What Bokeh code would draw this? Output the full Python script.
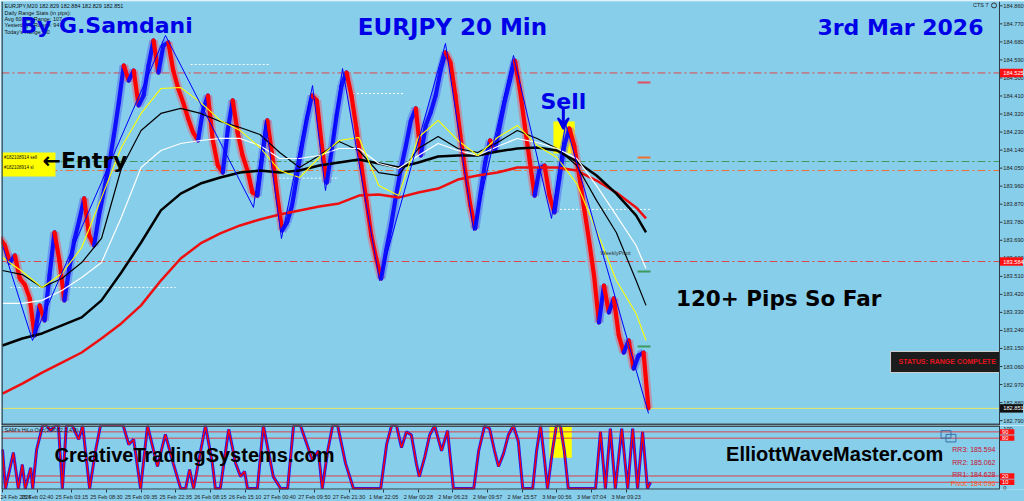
from bokeh.plotting import figure
from bokeh.models import (Range1d, FixedTicker, Span, Label, Arrow, VeeHead, ColumnDataSource)
from bokeh.layouts import column
from bokeh.embed import file_html
from bokeh.resources import INLINE
from bokeh.core.properties import value

BG = "#87CEEB"
BLUE = "#0000E8"
DARK = "#2C3C46"

# ---------------- data ----------------
closes = [183.664, 183.579, 183.614, 183.499, 183.469, 183.400, 183.215, 183.365, 183.290, 183.514,
          183.729, 183.589, 183.390, 183.549, 183.689, 183.789, 183.899, 183.714, 183.664, 183.814,
          183.938, 184.063, 184.213, 184.378, 184.562, 184.487, 184.537, 184.363, 184.412, 184.562,
          184.687, 184.527, 184.662, 184.677, 184.537, 184.447, 184.378, 184.298, 184.228, 184.188,
          184.338, 184.412, 184.188, 184.063, 184.028, 184.238, 184.388, 184.228, 184.113, 184.038,
          183.928, 183.913, 184.113, 184.288, 184.113, 183.913, 183.739, 183.779, 183.864, 184.013,
          184.163, 184.298, 184.412, 184.388, 184.163, 183.978, 184.138, 184.313, 184.462, 184.527,
          184.412, 184.248, 184.063, 183.889, 183.714, 183.599, 183.499, 183.639, 183.764, 183.913,
          184.048, 184.163, 184.288, 184.348, 184.113, 184.263, 184.328, 184.412, 184.537, 184.627,
          184.577, 184.412, 184.213, 184.028, 183.864, 183.749, 183.913, 184.078, 184.188, 184.138,
          184.263, 184.388, 184.487, 184.587, 184.447, 184.263, 184.088, 183.913, 184.048, 184.063,
          183.913, 183.829, 183.998, 184.163, 184.248, 184.163, 184.013, 183.849, 183.689, 183.514,
          183.280, 183.464, 183.330, 183.400, 183.215, 183.130, 183.190, 183.050, 183.115, 183.130,
          182.851]
first_open = 183.700

ma_bars = [0, 4, 8, 12, 16, 20, 24, 28, 32, 36, 40, 44, 48, 52, 56, 60, 64, 68, 72, 76, 80,
           84, 88, 92, 96, 100, 104, 108, 112, 116, 120, 124, 128, 130]
ma_yellow = [183.604, 183.534, 183.454, 183.524, 183.654, 183.903, 184.153, 184.323, 184.447, 184.452,
             184.378, 184.288, 184.238, 184.153, 184.038, 184.003, 184.103, 184.188, 184.203, 183.963,
             183.913, 184.203, 184.288, 184.188, 184.113, 184.203, 184.263, 184.163, 184.103, 183.973,
             183.739, 183.489, 183.325, 183.190]
ma_white = [183.375, 183.375, 183.390, 183.439, 183.504, 183.579, 183.804, 184.053, 184.138, 184.173,
            184.188, 184.198, 184.198, 184.163, 184.098, 184.098, 184.113, 184.148, 184.148, 184.073,
            184.048, 184.113, 184.173, 184.138, 184.113, 184.158, 184.198, 184.178, 184.148, 184.098,
            183.963, 183.814, 183.664, 183.549]
ma_black_thin = [183.539, 183.519, 183.454, 183.499, 183.579, 183.699, 184.048, 184.238, 184.323, 184.348,
                 184.323, 184.283, 184.253, 184.218, 184.128, 184.053, 184.113, 184.183, 184.138, 184.028,
                 184.013, 184.148, 184.208, 184.148, 184.128, 184.178, 184.238, 184.198, 184.148, 184.063,
                 183.889, 183.729, 183.489, 183.365]
ma_black_thick = [183.165, 183.200, 183.225, 183.265, 183.305, 183.390, 183.529, 183.679, 183.839, 183.923,
                  183.973, 184.003, 184.028, 184.038, 184.028, 184.038, 184.063, 184.078, 184.093, 184.073,
                  184.053, 184.078, 184.108, 184.113, 184.113, 184.133, 184.148, 184.153, 184.138, 184.083,
                  184.013, 183.923, 183.814, 183.729]
ma_red = [182.925, 182.975, 183.030, 183.080, 183.130, 183.200, 183.275, 183.365, 183.489, 183.599,
          183.674, 183.724, 183.764, 183.794, 183.819, 183.839, 183.859, 183.874, 183.913, 183.918,
          183.903, 183.928, 183.948, 183.993, 184.013, 184.028, 184.053, 184.053, 184.053, 184.038,
          183.988, 183.928, 183.854, 183.799]

zz_bars = [0, 6.06, 32.93, 50.71, 53.13, 56.36, 62.63, 65.25, 68.69, 76.16, 89.49, 95.15, 103.23,
           110.91, 113.74, 130.5]
zz_prices = [183.664, 183.190, 184.712, 183.854, 184.288, 183.699, 184.462, 183.938, 184.547, 183.489,
             184.672, 183.739, 184.612, 183.799, 184.273, 182.826]

osc_bars = [0, 0.6, 2.2, 3.2, 4.0, 4.6, 5.7, 6.1, 6.9, 8.1, 8.9, 9.7, 10.7, 11.3, 12.1, 12.9, 14.1, 15.4,
            16.2, 17.6, 18.8, 19.8, 24.4, 25.5, 26.5, 27.9, 29.3, 31.3, 32.9, 34.5, 36.0, 37.0, 37.8, 38.6,
            41.0, 42.4, 43.0, 44.0, 45.7, 47.1, 48.1, 48.9, 49.5, 51.5, 52.7, 54.7, 56.2, 57.6, 58.8, 60.2,
            62.6, 63.8, 64.6, 65.7, 66.7, 67.7, 69.3, 70.9, 76.4, 77.6, 78.6, 79.6, 80.6, 81.6, 82.6, 83.6,
            84.2, 85.3, 86.3, 87.3, 88.7, 89.9, 91.1, 95.2, 96.2, 97.4, 98.4, 99.4, 100.2, 101.2, 102.2,
            103.2, 104.2, 105.1, 107.1, 107.9, 108.7, 109.5, 110.1, 111.1, 111.9, 112.7, 113.5, 114.3,
            119.8, 120.8, 121.8, 122.8, 123.8, 125.1, 126.3, 127.3, 128.3, 129.3, 130.3, 130.9]
osc_vals = [62, 0, 57, 0, 38, 0, 33, 0, 62, 100, 100, 92, 100, 100, 0, 100, 100, 78,
            100, 0, 60, 100, 100, 70, 78, 0, 100, 35, 86, 40, 0, 0, 30, 0,
            100, 40, 0, 0, 94, 40, 19, 27, 0, 0, 100, 19, 0, 0, 100, 100,
            45, 60, 0, 60, 100, 100, 40, 0, 0, 70, 100, 100, 65, 90, 85, 40,
            19, 50, 85, 100, 60, 92, 0, 0, 60, 100, 95, 60, 35, 55, 85,
            100, 75, 0, 0, 60, 100, 45, 0, 60, 100, 100, 60, 0,
            0, 90, 0, 95, 0, 95, 0, 95, 0, 90, 0, 10]
osc_levels = [90, 80, 20, 10]
osc_scale_labels = ["0", "100"]

price_ticks = [182.790, 182.880, 182.970, 183.060, 183.150, 183.240, 183.330, 183.420, 183.510,
               183.600, 183.690, 183.780, 183.870, 183.960, 184.050, 184.140, 184.230, 184.320,
               184.410, 184.500, 184.590, 184.680, 184.770, 184.860]
time_ticks = [0, 7, 14, 21, 28, 35, 42, 49, 56, 63, 70, 77, 84, 91, 98, 105, 112, 119, 126]
time_labels = ["24 Feb 2026", "25 Feb 02:40", "25 Feb 03:15", "25 Feb 08:30", "25 Feb 09:35",
               "25 Feb 22:35", "26 Feb 08:15", "26 Feb 15:10", "27 Feb 00:40", "27 Feb 09:50",
               "27 Feb 21:30", "1 Mar 22:05", "2 Mar 00:28", "2 Mar 06:23", "2 Mar 09:57",
               "2 Mar 15:57", "3 Mar 00:56", "3 Mar 07:04", "3 Mar 09:23"]

level_r1 = 184.525
level_s1 = 183.584
level_entry = 184.083
level_sl = 184.038
bid = 182.851

# ---------------- geometry of the chart window ----------------
X0, AXIS_X, X1 = -0.2, 201.41, 206.46      # left edge, price-scale line, right edge (bars)
P_TOP, P_BOT = 184.8815, 182.7657
O_BOT, O_TOP = -1.5, 100.1

# ---------------- derived ----------------
opens = [first_open] + closes[:-1]
bars = list(range(len(closes)))
up = [c >= o for o, c in zip(opens, closes)]
src = ColumnDataSource(dict(
    x0=[b - 0.5 for b in bars], x1=[b + 0.5 for b in bars],
    y0=opens, y1=closes,
    color=["#1010FF" if u else "#FF0000" for u in up],
    halo=["#5570F4" if u else "#DE6A7C" for u in up],
))

xr = Range1d(X0, X1)
p = figure(frame_width=1023, frame_height=424, x_range=xr, y_range=Range1d(P_BOT, P_TOP),
           output_backend="svg", toolbar_location=None, x_axis_location=None,
           y_axis_location=None, min_border_left=1, min_border_right=0,
           min_border_top=1, min_border_bottom=0,
           background_fill_color=BG, border_fill_color=BG, outline_line_color=None)
p.grid.visible = False

# background boxes
p.quad(left=[111.3], right=[115.6], top=[184.283], bottom=[184.123], fill_color="#FFFF00",
       line_color=None)

# horizontal levels (stop at the price scale)
p.multi_line(xs=[[X0, AXIS_X]] * 4,
             ys=[[level_r1] * 2, [level_s1] * 2, [level_entry] * 2, [level_sl] * 2],
             line_color=["#E04848", "#E04848", "#3C9A5A", "#F07030"], line_width=1,
             line_dash="8 3 2 3")
p.segment(x0=[X0], x1=[AXIS_X], y0=[bid], y1=[bid], line_color="#E6E66A", line_width=1)

# white dotted daily markers
p.multi_line(xs=[[38, 54], [1.6, 35], [55, 68], [70, 81], [111, 131]],
             ys=[[184.567] * 2, [183.454] * 2, [184.000] * 2, [184.422] * 2, [183.844] * 2],
             line_color="white", line_width=1, line_dash="2 2")
# pivot markers near last bar
p.multi_line(xs=[[128.3, 130.9]] * 4,
             ys=[[184.477] * 2, [184.103] * 2, [183.534] * 2, [183.160] * 2],
             line_color=["#E05060", "#F07030", "#3C9A5A", "#3C9A5A"], line_width=2)

# candles (open -> close strokes)
p.segment(x0="x0", x1="x1", y0="y0", y1="y1", line_color="halo", line_width=8.5,
          line_alpha=0.55, line_cap="butt", source=src)
p.segment(x0="x0", x1="x1", y0="y0", y1="y1", line_color="color", line_width=4.2,
          line_cap="round", source=src)

# moving averages
p.line(ma_bars, ma_red, line_color="#EE1010", line_width=2.5)
p.line(ma_bars, ma_black_thick, line_color="#000000", line_width=2.5)
p.line(ma_bars, ma_black_thin, line_color="#000000", line_width=1.2)
p.line(ma_bars, ma_white, line_color="#FFFFFF", line_width=1.2)
p.line(ma_bars, ma_yellow, line_color="#FFFF00", line_width=1.1)

# zigzag
p.line(zz_bars, zz_prices, line_color="#0000FF", line_width=1)

# entry tag
p.quad(left=[X0], right=[10.7], top=[184.128], bottom=[184.008], fill_color="#FFFF00",
       line_color=None)

# status box
p.quad(left=[179.4], right=[AXIS_X], top=[183.135], bottom=[183.030], fill_color="#1C1C1C",
       line_color="#D0D0D0", line_width=1)

# price scale (line, ticks, labels)
p.add_layout(Span(location=AXIS_X, dimension="height", line_color=DARK, line_width=1))
p.add_layout(Span(location=X0 + 0.1, dimension="height", line_color=DARK, line_width=1.5))
p.segment(x0=[AXIS_X] * len(price_ticks), x1=[AXIS_X + 0.6] * len(price_ticks),
          y0=price_ticks, y1=price_ticks, line_color=DARK, line_width=1)
p.text(x=[AXIS_X + 0.75] * len(price_ticks), y=price_ticks,
       text=["%.3f" % t for t in price_ticks], text_font=value("Liberation Sans"),
       text_font_size="5.7px", text_color="#222222", text_baseline="middle", text_align="left")
for yv, bgc in [(level_r1, "#FF1010"), (level_s1, "#FF1010"), (bid, "#111111")]:
    p.quad(left=[AXIS_X + 0.05], right=[X1 - 0.3], top=[yv + 0.021], bottom=[yv - 0.021],
           fill_color=bgc, line_color=None)
    p.text(x=[AXIS_X + 0.75], y=[yv], text=["%.3f" % yv], text_font=value("Liberation Sans"),
           text_font_size="5.7px", text_color="#FFFFFF", text_baseline="middle")
# separator towards the oscillator window
p.segment(x0=[X0], x1=[AXIS_X], y0=[182.768], y1=[182.768], line_color="#3E4E58", line_width=3)


def lab(fig, x, y, text, size, color="#000000", font="DejaVu Sans", style="bold",
        align="left", **kw):
    fig.add_layout(Label(x=x, y=y, text=text, text_font=font, text_font_size=size,
                         text_font_style=style, text_color=color, text_align=align,
                         text_baseline="middle", **kw))


info = ["EURJPY,M20  182.829 182.884 182.829 182.851", "Daily Range Stats (in pips):",
        "Avg 60-day Range: 107", "Yesterday's Range: 94", "Today's Range: 60"]
for t, yv in zip(info, [184.860, 184.822, 184.792, 184.762, 184.727]):
    lab(p, 0.4, yv, t, "5.5px", "#111111", "Liberation Sans", "normal")

lab(p, 21.0, 184.762, "By G.Samdani", "22px", BLUE, align="center")
lab(p, 90.9, 184.752, "EURJPY 20 Min", "23px", BLUE, align="center")
lab(p, 181.4, 184.752, "3rd Mar 2026", "22px", BLUE, align="center")
lab(p, 113.3, 184.382, "Sell", "22px", BLUE, align="center")
p.add_layout(Arrow(end=VeeHead(size=11, fill_color=BLUE, line_color=BLUE, line_width=2),
                   x_start=113.3, y_start=184.353, x_end=113.3, y_end=184.245,
                   line_color=BLUE, line_width=3))
lab(p, 0.3, 184.103, "#182108914 sell", "4.5px", "#111111", "Liberation Sans", "normal")
lab(p, 0.3, 184.053, "#182108914 sl", "4.5px", "#111111", "Liberation Sans", "normal")
lab(p, 8.1, 184.088, "\u2190Entry", "22px", "#000000")
lab(p, 156.8, 183.399, "120+ Pips So Far", "21.5px", "#000000", align="center")
lab(p, 120.8, 183.624, "WeeklyPivot", "5.5px", "#333333", "Liberation Sans", "normal")
lab(p, 181.0, 183.083, "STATUS: RANGE COMPLETE", "7px", "#E8141E", "Liberation Sans", "bold")
lab(p, 199.2, 184.862, "CTS 7", "5.5px", "#222222", "Liberation Sans", "normal", align="right")
p.scatter([200.3], [184.862], size=5, marker="circle", fill_color=None, line_color="#333333")

# ---------------- oscillator window ----------------
q = figure(frame_width=1023, frame_height=64, x_range=xr, y_range=Range1d(O_BOT, O_TOP),
           output_backend="svg", toolbar_location=None, y_axis_location=None,
           min_border_left=1, min_border_right=0, min_border_top=0, min_border_bottom=0,
           background_fill_color=BG, border_fill_color=BG, outline_line_color=None)
q.grid.visible = False
qx = q.xaxis[0]
qx.ticker = FixedTicker(ticks=time_ticks)
qx.major_label_overrides = {t: s for t, s in zip(time_ticks, time_labels)}
qx.major_label_text_align = "left"
qx.major_label_text_font_size = "5.5px"
qx.major_label_text_font = "Liberation Sans"
qx.major_label_text_color = "#222222"
qx.major_tick_in = 0
qx.major_tick_out = 3
qx.minor_tick_out = 0
qx.minor_tick_in = 0
qx.major_label_standoff = 1
qx.axis_line_color = None
qx.major_tick_line_color = DARK

q.quad(left=[110.5], right=[115.0], top=[100.1], bottom=[49], fill_color="#FFFF00", line_color=None)
q.multi_line(xs=[[X0, AXIS_X]] * len(osc_levels), ys=[[lv, lv] for lv in osc_levels],
             line_color="#E0404A", line_width=1)
q.line(osc_bars, osc_vals, line_color="#1515FF", line_width=3)
q.line(osc_bars, osc_vals, line_color="#FF0000", line_width=1.4)

q.add_layout(Span(location=AXIS_X, dimension="height", line_color=DARK, line_width=1))
q.add_layout(Span(location=X0 + 0.1, dimension="height", line_color=DARK, line_width=1.5))
q.segment(x0=[X0], x1=[AXIS_X], y0=[O_TOP], y1=[O_TOP], line_color="#3E4E58", line_width=3)
q.segment(x0=[X0], x1=[AXIS_X], y0=[O_BOT], y1=[O_BOT], line_color=DARK, line_width=2)

lab(q, 0.4, 93, "SAM's HiLo Osc(2,3012,2,4,8)", "5.5px", "#222222", "Liberation Sans", "normal")
lab(q, 38.8, 54, "CreativeTradingSystems.com", "20px", "#000000", "Liberation Sans", "bold",
    align="center")
lab(q, 168.1, 55, "ElliottWaveMaster.com", "20px", "#000000", "Liberation Sans", "bold",
    align="center")
for t, yv, c in [("RR3: 185.594", 62, "#C8102E"), ("RR2: 185.062", 41.5, "#C8102E"),
                 ("RR1: 184.628", 22.5, "#C8102E"), ("Pivot: 184.096", 8, "#FF5A1E")]:
    lab(q, 200.6, yv, t, "7px", c, "Liberation Sans", "normal", align="right")
q.quad(left=[189.6, 190.6], right=[191.6, 192.6], top=[92, 86], bottom=[80, 74],
       fill_color=None, line_color="#3A6EA5", line_width=1)
q.text(x=[AXIS_X + 0.75] * 2, y=[1.5, 95], text=osc_scale_labels, text_font=value("Liberation Sans"),
       text_font_size="5.7px", text_color="#222222", text_baseline="middle")
for lv in osc_levels:
    q.quad(left=[AXIS_X + 0.05], right=[AXIS_X + 3.0], top=[lv + 4.3], bottom=[lv - 4.3],
           fill_color="#FF1010", line_color=None)
    q.text(x=[AXIS_X + 0.5], y=[lv], text=[str(lv)], text_font=value("Liberation Sans"),
           text_font_size="5.7px", text_color="#FFFFFF", text_baseline="middle")

layout = column(p, q, spacing=0)
open("out.html", "w").write(file_html(layout, INLINE))
